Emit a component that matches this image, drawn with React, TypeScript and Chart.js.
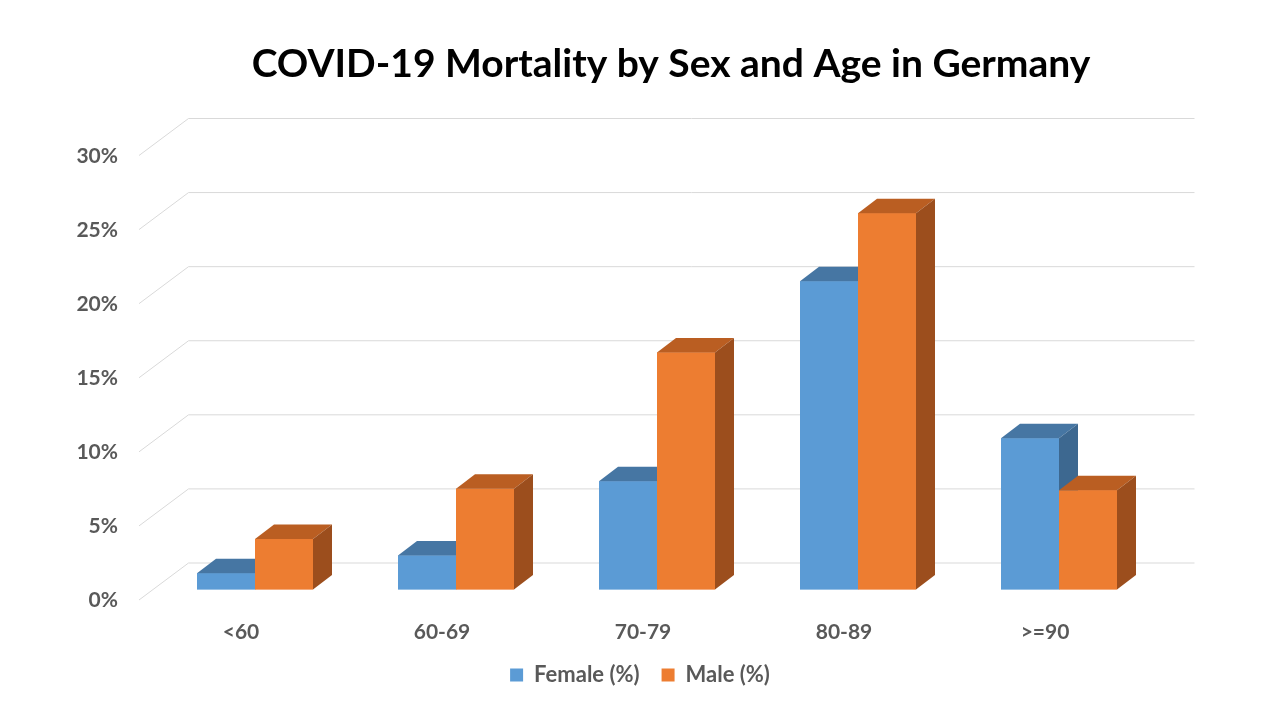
import React, { useEffect, useRef } from "react";
import { Chart, registerables } from "chart.js";

Chart.register(...registerables);

const categories = ["<60", "60-69", "70-79", "80-89", ">=90"];
const femaleValues = [1.1, 2.3, 7.3, 20.8, 10.2];
const maleValues = [3.4, 6.8, 16.0, 25.4, 6.7];
const yMax = 30;
const yStep = 5;
const titleText = "COVID-19 Mortality by Sex and Age in Germany";

const FONT = "Lato, 'Open Sans', sans-serif";
const DEPTH_X = 19;
const DEPTH_Y = -14.5;

const faceColors = [
  { front: "#5B9BD5", top: "#4676A3", side: "#3D6890" },
  { front: "#ED7D31", top: "#BA5E22", side: "#9C4E1D" },
];

const wallPlugin = {
  id: "wall3d",
  beforeDatasetsDraw(chart: any) {
    const { ctx, chartArea, scales } = chart;
    const y = scales.y;
    ctx.save();
    ctx.strokeStyle = "#D9D9D9";
    ctx.lineWidth = 1;
    for (let v = 0; v <= yMax; v += yStep) {
      const py = y.getPixelForValue(v);
      const bx = chartArea.left + 34;
      const by = py - 26.5;
      ctx.beginPath();
      ctx.moveTo(chartArea.left - 15.5, py + 10.5);
      ctx.lineTo(bx, by);
      ctx.lineTo(chartArea.right + 35, by);
      ctx.stroke();
    }
    ctx.restore();
  },
  afterDatasetsDraw(chart: any) {
    const { ctx } = chart;
    ctx.save();
    const n = categories.length;
    for (let i = 0; i < n; i++) {
      chart.data.datasets.forEach((_: any, di: number) => {
        const meta = chart.getDatasetMeta(di);
        const bar: any = meta.data[i];
        if (!bar) return;
        const c = faceColors[di];
        const l = bar.x - bar.width / 2;
        const r = bar.x + bar.width / 2;
        const t = Math.min(bar.y, bar.base);
        const b = Math.max(bar.y, bar.base);
        ctx.fillStyle = c.front;
        ctx.fillRect(l, t, r - l, b - t);
        ctx.fillStyle = c.top;
        ctx.beginPath();
        ctx.moveTo(l, t);
        ctx.lineTo(l + DEPTH_X, t + DEPTH_Y);
        ctx.lineTo(r + DEPTH_X, t + DEPTH_Y);
        ctx.lineTo(r, t);
        ctx.closePath();
        ctx.fill();
        ctx.fillStyle = c.side;
        ctx.beginPath();
        ctx.moveTo(r, t);
        ctx.lineTo(r + DEPTH_X, t + DEPTH_Y);
        ctx.lineTo(r + DEPTH_X, b + DEPTH_Y);
        ctx.lineTo(r, b);
        ctx.closePath();
        ctx.fill();
      });
    }
    ctx.restore();
  },
  afterDraw(chart: any) {
    const { ctx } = chart;
    ctx.save();
    ctx.fillStyle = "#000000";
    ctx.font = `bold 39px ${FONT}`;
    ctx.textAlign = "center";
    ctx.textBaseline = "middle";
    ctx.fillText(titleText, 671, 64);
    ctx.restore();
  },
};

export default function App() {
  const ref = useRef<HTMLCanvasElement | null>(null);
  useEffect(() => {
    if (!ref.current) return;
    const chart = new Chart(ref.current, {
      type: "bar",
      data: {
        labels: categories,
        datasets: [
          {
            label: "Female (%)",
            data: femaleValues,
            backgroundColor: faceColors[0].front,
            barPercentage: 1,
            categoryPercentage: 116 / 201,
            yAxisID: "y",
          },
          {
            label: "Male (%)",
            data: maleValues,
            backgroundColor: faceColors[1].front,
            barPercentage: 1,
            categoryPercentage: 116 / 201,
            yAxisID: "y",
          },
        ],
      },
      options: {
        animation: false,
        responsive: false,
        devicePixelRatio: 1,
        layout: { padding: { left: 0, right: 0, top: 145, bottom: 24 } },
        plugins: {
          title: { display: false },
          legend: {
            display: true,
            position: "bottom",
            labels: {
              boxWidth: 13,
              boxHeight: 13,
              padding: 22,
              color: "#595959",
              font: { family: FONT, size: 22, weight: "bold" },
            },
          },
          tooltip: { enabled: false },
        },
        scales: {
          x: {
            grid: { display: false, drawTicks: false },
            border: { display: false },
            ticks: {
              color: "#595959",
              font: { family: FONT, size: 21, weight: "bold" },
              padding: 30,
              labelOffset: -14,
            },
            afterFit: (s: any) => {
              s.height = 52.5;
            },
          },
          y: {
            min: 0,
            max: yMax,
            grid: { display: false, drawTicks: false },
            border: { display: false },
            ticks: {
              stepSize: yStep,
              color: "#595959",
              font: { family: FONT, size: 21, weight: "bold" },
              padding: 36.5,
              labelOffset: 11,
              callback: (v: any) => v + "%",
            },
            afterFit: (s: any) => {
              s.width = 154.5;
            },
          },
          yRight: {
            position: "right",
            display: true,
            grid: { display: false, drawTicks: false },
            border: { display: false },
            ticks: { display: false },
            afterFit: (s: any) => {
              s.width = 120.5;
            },
          },
        },
      },
      plugins: [wallPlugin],
    });
    return () => chart.destroy();
  }, []);
  return (
    <div style={{ position: "fixed", left: 0, top: 0, width: 1280, height: 720, background: "#fff" }}>
      <canvas ref={ref} width={1280} height={720} style={{ width: 1280, height: 720 }} />
    </div>
  );
}
